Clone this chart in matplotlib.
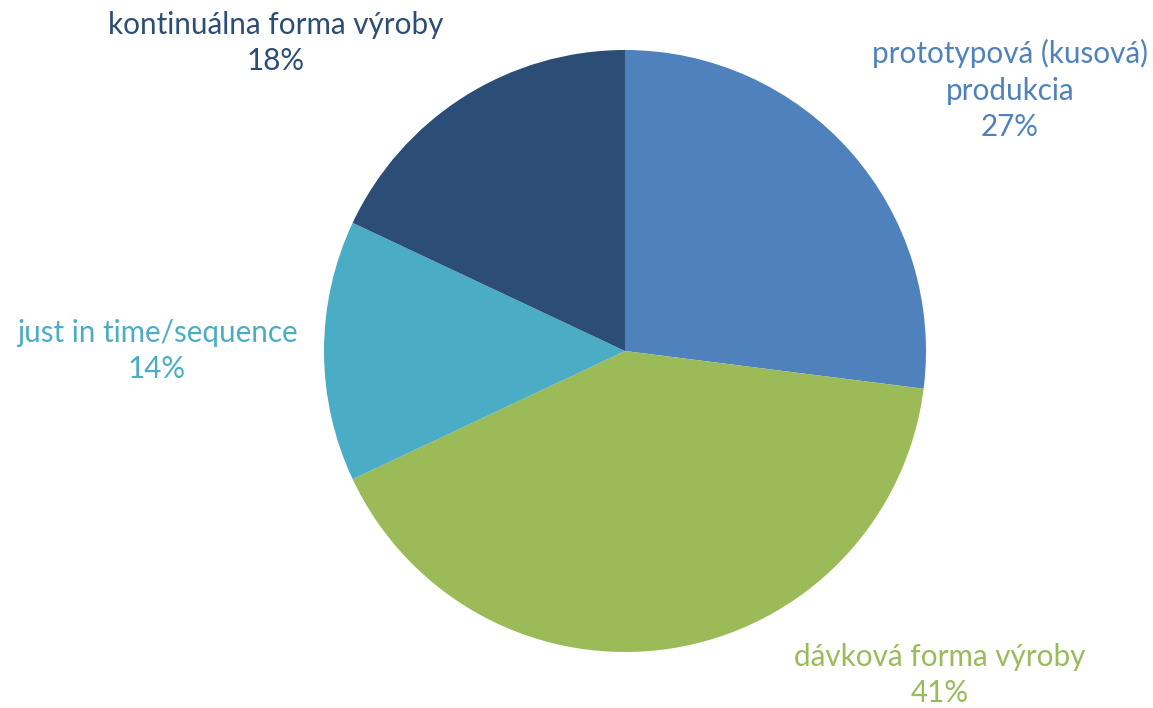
import matplotlib.pyplot as plt

categories = ['prototypová (kusová)\nprodukcia', 'dávková forma výroby',
              'just in time/sequence', 'kontinuálna forma výroby']
shares = [27, 41, 14, 18]
colors = ['#4F81BD', '#9BBB59', '#4BACC6', '#2C4D75']
# label centres in pixel coords (x, y from top)
label_pos = [(1010, 90), (940, 675), (157, 351), (276, 43)]

plt.rcParams['font.family'] = ['Lato', 'DejaVu Sans']

W, H = 1153, 708
fig = plt.figure(figsize=(W / 100, H / 100), dpi=100)
ax = fig.add_axes([0, 0, 1, 1])

ax.pie(shares, colors=colors, startangle=90, counterclock=False,
       center=(625, H - 351), radius=301,
       wedgeprops=dict(linewidth=0))

# pie() resets the view, so set it afterwards
ax.set_xlim(0, W)
ax.set_ylim(0, H)
ax.set_aspect('equal')
ax.axis('off')

for cat, val, col, (x, y) in zip(categories, shares, colors, label_pos):
    ax.text(x, H - y, f'{cat}\n{val}%', color=col, fontsize=21.3,
            ha='center', va='center', linespacing=1.38)

fig.savefig('out.png', dpi=100)
